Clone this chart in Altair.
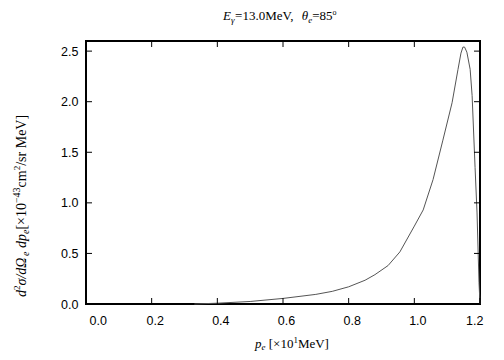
import altair as alt
import pandas as pd

# curve
p_e = [0.33, 0.40, 0.50, 0.60, 0.70, 0.75, 0.80, 0.85, 0.88, 0.92, 0.956, 1.00, 1.027,
       1.057, 1.087, 1.115, 1.133, 1.142, 1.148, 1.153, 1.160, 1.17, 1.176, 1.185, 1.191,
       1.197, 1.2]
xsec = [0.0, 0.008, 0.025, 0.055, 0.095, 0.125, 0.17, 0.235, 0.29, 0.38, 0.515, 0.77, 0.93,
        1.23, 1.62, 1.99, 2.32, 2.48, 2.54, 2.54, 2.49, 2.32, 2.06, 1.35, 0.90,
        0.21, 0.0]

x_ticks = [0.0, 0.2, 0.4, 0.6, 0.8, 1.0, 1.2]
y_ticks = [0.0, 0.5, 1.0, 1.5, 2.0, 2.5]

# rich-text pieces: (text, size, italic, baseline shift)
title_parts = [("E", 13, True, 0), ("γ", 9, True, 3), ("=13.0MeV,  ", 13, False, 0),
               ("θ", 13, True, 0), ("e", 9, True, 3), ("=85", 13, False, 0),
               ("o", 8, False, -5)]
xlab_parts = [("p", 13, True, 0), ("e", 9, True, 2), (" [×10", 13, False, 0),
              ("1", 9, False, -5), ("MeV]", 13, False, 0)]
ylab_parts = [("d", 14, True, 0), ("2", 9, False, -6), ("σ/dΩ", 14, True, 0),
              ("e", 10, True, 3), (" dp", 14, True, 0), ("e", 10, True, 3),
              ("[×10", 14, False, 0), ("−43", 10, False, -6), ("cm", 14, False, 0),
              ("2", 9, False, -6), ("/sr MeV]", 14, False, 0)]

W, H = 394, 263
XD, YD = [0, 1.2], [0, 2.6]

# approximate Times advance widths (em)
CW = {" ": .25, "d": .5, "σ": .56, "/": .278, "Ω": .77, "e": .444, "p": .5, "[": .333,
      "×": .564, "1": .5, "0": .5, "−": .564, "4": .5, "3": .5, "c": .444, "m": .778,
      "2": .5, "s": .389, "r": .333, "M": .889, "V": .722, "]": .333, "E": .611,
      "γ": .46, "=": .564, ".": .25, ",": .25, "θ": .5, "8": .5, "5": .5, "o": .5}


def rich(parts, x, y, angle=0):
    layers = []
    off = 0.0
    for txt, size, ital, shift in parts:
        lead = len(txt) - len(txt.lstrip(" "))
        off += lead * CW[" "] * size
        body = txt.strip(" ")
        layers.append(
            alt.Chart(pd.DataFrame({"t": [body]})).mark_text(
                font="Liberation Serif", fontSize=size, fontStyle="italic" if ital else "normal",
                align="left", baseline="alphabetic", angle=angle, dx=off, dy=shift,
                color="black",
            ).encode(x=alt.value(x), y=alt.value(y), text="t:N")
        )
        off += sum(CW.get(c, .5) for c in txt.lstrip(" ")) * size
    return layers


df = pd.DataFrame({"x": p_e, "y": xsec})
xt = pd.DataFrame({"x": x_ticks})
yt = pd.DataFrame({"y": y_ticks})

xs = alt.Scale(domain=XD, nice=False, zero=False, padding=0)
ys = alt.Scale(domain=YD, nice=False, zero=False, padding=0)

xaxis = alt.Axis(values=x_ticks, format=".1f", ticks=False, domain=False, grid=False,
                 labelPadding=10, labelFontSize=12.5, labelFont="Liberation Sans",
                 labelColor="black", labelOffset=3, title=None)
yaxis = alt.Axis(values=y_ticks, format=".1f", ticks=False, domain=False, grid=False,
                 labelPadding=8, labelFontSize=12.5, labelFont="Liberation Sans",
                 labelColor="black", title=None)

line = alt.Chart(df).mark_line(color="#555555", strokeWidth=1).encode(
    x=alt.X("x:Q", scale=xs, axis=xaxis),
    y=alt.Y("y:Q", scale=ys, axis=yaxis),
)

tl = 6
bot = alt.Chart(xt).mark_rule(color="black").encode(
    x=alt.X("x:Q", scale=xs), y=alt.value(H), y2=alt.value(H - tl))
top = alt.Chart(xt).mark_rule(color="black").encode(
    x=alt.X("x:Q", scale=xs), y=alt.value(0), y2=alt.value(tl))
lef = alt.Chart(yt).mark_rule(color="black").encode(
    y=alt.Y("y:Q", scale=ys), x=alt.value(0), x2=alt.value(tl))
rig = alt.Chart(yt).mark_rule(color="black").encode(
    y=alt.Y("y:Q", scale=ys), x=alt.value(W), x2=alt.value(W - tl))

texts = (rich(title_parts, 137, -21) + rich(xlab_parts, 169, 307)
         + rich(ylab_parts, -60, 256, angle=270))

chart = alt.layer(line, bot, top, lef, rig, *texts).properties(
    width=W, height=H,
    autosize=alt.AutoSizeParams(type="none"),
    padding={"left": 78, "top": 33, "right": 16, "bottom": 48},
).configure_view(stroke="black", strokeWidth=2)

chart.save("out.html", embed_options={"renderer": "svg", "actions": False})
